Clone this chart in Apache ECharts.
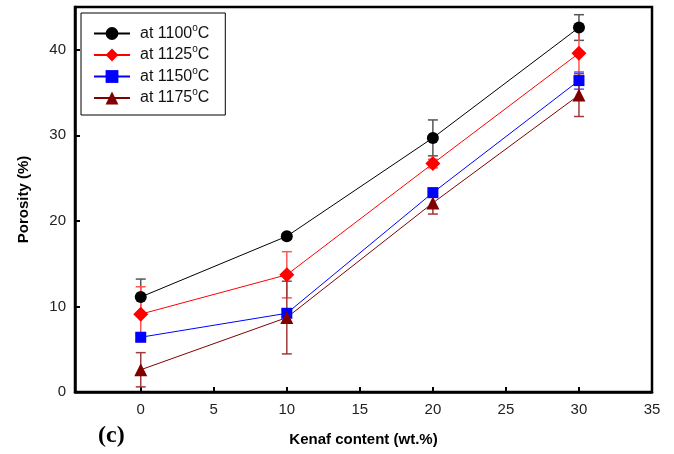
<!DOCTYPE html>
<html>
<head>
<meta charset="utf-8">
<script src="https://cdn.jsdelivr.net/npm/echarts@6/dist/echarts.min.js"></script>
<style>
  html, body { margin: 0; padding: 0; background: #fff; }
  #chart { width: 674px; height: 454px; }
</style>
</head>
<body>
<div id="chart"></div>
<script>
  // kenaf content (wt.%)
  const kenaf = [0, 10, 20, 30];
  const temps = ['1100', '1125', '1150', '1175'];
  // porosity (%) and error (+/-) for each sintering temperature
  const p1100 = [11.1, 18.2, 29.7, 42.6];
  const e1100 = [2.1, 0.3, 2.1, 1.5];
  const p1125 = [9.1, 13.7, 26.7, 39.6];
  const e1125 = [3.2, 2.7, 0.5, 2.7];
  const p1150 = [6.4, 9.2, 23.3, 36.4];
  const e1150 = [0.3, 0.4, 0.5, 1.0];
  const p1175 = [2.6, 8.7, 22.1, 34.7];
  const e1175 = [2.0, 4.25, 1.3, 2.5];
  const xTicks = [0, 5, 10, 15, 20, 25, 30, 35];
  const yTicks = [0, 10, 20, 30, 40];

  const colors = ['#000000', '#ff0000', '#0000ff', '#800000'];
  const barColors = ['#555555', '#ff5555', '#5555ff', '#a03a3a'];
  const symbols = ['circle', 'diamond', 'rect', 'triangle'];
  const symSizes = [12, 15, 11, 13];
  const values = [p1100, p1125, p1150, p1175];
  const errors = [e1100, e1125, e1150, e1175];

  const chart = echarts.init(document.getElementById('chart'));

  let series = [];
  temps.forEach((t, i) => {
    series.push({
      type: 'custom',
      name: 'err' + t,
      z: 1,
      data: kenaf.map((x, j) => [x, values[i][j] - errors[i][j], values[i][j] + errors[i][j]]),
      renderItem: function (params, api) {
        let lo = api.coord([api.value(0), api.value(1)]);
        let hi = api.coord([api.value(0), api.value(2)]);
        let w = 5;
        let st = { stroke: barColors[i], lineWidth: 1.5 };
        return {
          type: 'group',
          children: [
            { type: 'line', shape: { x1: lo[0], y1: lo[1], x2: hi[0], y2: hi[1] }, style: st },
            { type: 'line', shape: { x1: lo[0] - w, y1: lo[1], x2: lo[0] + w, y2: lo[1] }, style: st },
            { type: 'line', shape: { x1: hi[0] - w, y1: hi[1], x2: hi[0] + w, y2: hi[1] }, style: st }
          ]
        };
      }
    });
  });
  temps.forEach((t, i) => {
    series.push({
      type: 'line',
      name: t,
      z: 3,
      data: kenaf.map((x, j) => [x, values[i][j]]),
      symbol: symbols[i],
      symbolSize: symSizes[i],
      color: colors[i],
      lineStyle: { width: 1, color: colors[i] },
      itemStyle: { color: colors[i] }
    });
  });

  chart.setOption({
    animation: false,
    textStyle: { fontFamily: 'Liberation Sans, Arial, sans-serif' },
    grid: {
      left: 75, right: 22, top: 7, bottom: 62,
      show: true, borderColor: '#000', borderWidth: 2.5
    },
    legend: {
      data: temps,
      orient: 'vertical',
      left: 81, top: 13,
      padding: [10, 16, 9, 12],
      itemWidth: 36, itemHeight: 16, itemGap: 3,
      borderColor: '#000', borderWidth: 1,
      formatter: function (name) { return 'at ' + name + '{s|o}C'; },
      textStyle: {
        fontSize: 16, color: '#111', padding: [0, 0, 0, 5],
        rich: { s: { fontSize: 10, padding: [0, 0, 11, 0], color: '#111' } }
      }
    },
    xAxis: {
      type: 'value',
      min: -4.5, max: 35,
      name: 'Kenaf content (wt.%)',
      nameLocation: 'middle',
      nameGap: 40,
      nameTextStyle: { fontSize: 15, fontWeight: 'bold', color: '#000' },
      splitLine: { show: false },
      axisLine: { onZero: false, lineStyle: { color: '#000', width: 2.5 } },
      axisTick: { inside: true, length: 5, customValues: xTicks, lineStyle: { color: '#000', width: 2 } },
      axisLabel: { customValues: xTicks, fontSize: 15, color: '#222', margin: 10 }
    },
    yAxis: {
      type: 'value',
      min: 0, max: 45,
      name: 'Porosity (%)',
      nameLocation: 'middle',
      nameGap: 44,
      nameTextStyle: { fontSize: 15, fontWeight: 'bold', color: '#000' },
      splitLine: { show: false },
      axisLine: { show: true, onZero: false, lineStyle: { color: '#000', width: 2.5 } },
      axisTick: { show: true, inside: true, length: 5, customValues: yTicks, lineStyle: { color: '#000', width: 2 } },
      axisLabel: { customValues: yTicks, fontSize: 15, color: '#222', margin: 9 }
    },
    graphic: [{
      type: 'text',
      left: 98, top: 424,
      style: { text: '(c)', font: 'bold 24px "Liberation Serif", "Times New Roman", serif', fill: '#000' }
    }],
    series: series
  });
</script>
</body>
</html>
